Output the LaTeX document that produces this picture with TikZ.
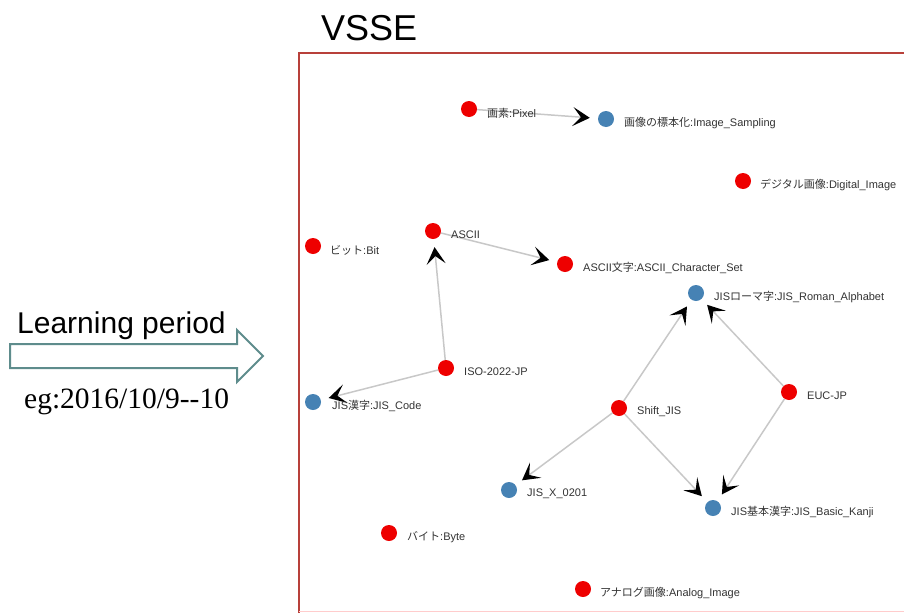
\documentclass[tikz,border=0pt]{standalone}
\usepackage{fontspec}
\setmainfont{Liberation Sans}
\newfontfamily\jp{Noto Sans CJK JP}
\newfontfamily\serifeg{Liberation Serif}
\usetikzlibrary{arrows.meta,backgrounds}
\definecolor{nred}{HTML}{EE0000}
\definecolor{nblue}{HTML}{4682B4}
\definecolor{edgegray}{HTML}{C8C8C8}
\definecolor{framered}{HTML}{B8403A}
\definecolor{arrteal}{HTML}{5E8C8C}
\definecolor{lbltext}{HTML}{333333}
\tikzset{
  dotred/.style={circle,fill=nred,minimum size=16pt,inner sep=0pt},
  dotblue/.style={circle,fill=nblue,minimum size=16pt,inner sep=0pt},
  lbl/.style={anchor=west,inner sep=0pt,text=lbltext,font=\fontsize{11}{13}\selectfont},
  link/.style={draw=edgegray,line width=1.5pt,shorten >=8pt,
    -{Stealth[length=17pt,width=19pt,inset=8pt,color=black]}},
}
\begin{document}
\begin{tikzpicture}[x=1pt,y=-1pt]
\useasboundingbox (0,0) rectangle (904,613);
% title and frame
\node[anchor=base west,inner sep=0pt,font=\fontsize{36}{40}\selectfont] (title) at (321,40) {VSSE};
\draw[framered,line width=2pt] (298.5,613) -- (298.5,53) -- (904,53);
\draw[red!20,line width=1pt] (298.5,611.5) -- (904,611.5);
% left arrow and texts
\node[anchor=base west,inner sep=0pt,font=\fontsize{30}{34}\selectfont] (lp) at (17,333) {Learning period};
\draw[arrteal,line width=2pt,fill=white,line join=miter]
  (10,344) -- (237,344) -- (237,330) -- (263,356) -- (237,382) -- (237,368) -- (10,368) -- cycle;
\node[anchor=base west,inner sep=0pt,font=\serifeg\fontsize{29.5}{32}\selectfont] (eg) at (24,408) {eg:2016/10/9-{}-10};
% nodes
\node[dotred]  (pix)  at (469,109) {};
\node[dotblue] (samp) at (606,119) {};
\node[dotred]  (dig)  at (743,181) {};
\node[dotred]  (bit)  at (313,246) {};
\node[dotred]  (asc)  at (433,231) {};
\node[dotred]  (ascs) at (565,264) {};
\node[dotblue] (rom)  at (696,293) {};
\node[dotred]  (iso)  at (446,368) {};
\node[dotblue] (jisc) at (313,402) {};
\node[dotred]  (sjis) at (619,408) {};
\node[dotred]  (euc)  at (789,392) {};
\node[dotblue] (x201) at (509,490) {};
\node[dotblue] (kanj) at (713,508) {};
\node[dotred]  (byte) at (389,533) {};
\node[dotred]  (ana)  at (583,589) {};
% labels
\node[lbl] (lpix)  at (487,113) {{\jp 画素}:Pixel};
\node[lbl] (lsamp) at (624,123) {{\jp 画像の標本化}:Image\_Sampling};
\node[lbl] (ldig)  at (760,185) {{\jp デジタル画像}:Digital\_Image};
\node[lbl] (lbit)  at (330,250) {{\jp ビット}:Bit};
\node[lbl] (lasc)  at (451,235) {ASCII};
\node[lbl] (lascs) at (583,268) {ASCII{\jp 文字}:ASCII\_Character\_Set};
\node[lbl] (lrom)  at (714,297) {JIS{\jp ローマ字}:JIS\_Roman\_Alphabet};
\node[lbl] (liso)  at (464,372) {ISO-2022-JP};
\node[lbl] (ljisc) at (332,406) {JIS{\jp 漢字}:JIS\_Code};
\node[lbl] (lsjis) at (637,412) {Shift\_JIS};
\node[lbl] (leuc)  at (807,396) {EUC-JP};
\node[lbl] (lx201) at (527,494) {JIS\_X\_0201};
\node[lbl] (lkanj) at (731,512) {JIS{\jp 基本漢字}:JIS\_Basic\_Kanji};
\node[lbl] (lbyte) at (407,537) {{\jp バイト}:Byte};
\node[lbl] (lana)  at (600,593) {{\jp アナログ画像}:Analog\_Image};
% links
\begin{pgfonlayer}{background}
\draw[link] (pix) -- (samp);
\draw[link] (asc) -- (ascs);
\draw[link] (iso) -- (asc);
\draw[link] (iso) -- (jisc);
\draw[link] (sjis) -- (rom);
\draw[link] (euc) -- (rom);
\draw[link] (sjis) -- (x201);
\draw[link] (sjis) -- (kanj);
\draw[link] (euc) -- (kanj);
\end{pgfonlayer}
\end{tikzpicture}
\end{document}
